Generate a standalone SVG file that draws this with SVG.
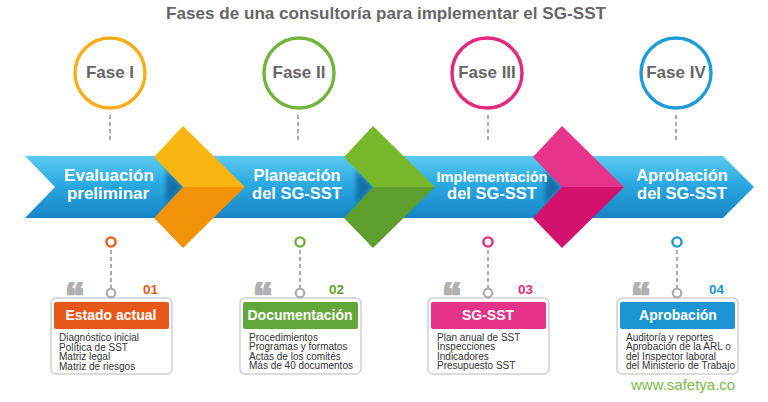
<svg xmlns="http://www.w3.org/2000/svg" width="768" height="402" viewBox="0 0 768 402">
<defs>
  <linearGradient id="band" x1="0" y1="0" x2="0" y2="1">
    <stop offset="0" stop-color="#5CCAF1"/>
    <stop offset="0.45" stop-color="#2BA9E1"/>
    <stop offset="1" stop-color="#1784C5"/>
  </linearGradient>
  <filter id="sh" x="-20%" y="-20%" width="140%" height="140%">
    <feGaussianBlur stdDeviation="2"/>
  </filter>
</defs>
<style>
  .title{font-family:"Liberation Sans",Arial,sans-serif;font-weight:bold;font-size:16.5px;fill:#666666}
  .fase{font-family:"Liberation Sans",Arial,sans-serif;font-weight:bold;font-size:17px;fill:#666666;text-anchor:middle}
  .ring{fill:#ffffff;stroke-width:3.4}
  .dash{stroke:#ababab;stroke-width:2;stroke-dasharray:4 3;fill:none}
  .bl{font-family:"Liberation Sans",Arial,sans-serif;font-weight:bold;font-size:16.5px;fill:#ffffff;text-anchor:middle}
  .card{fill:#ffffff;stroke:#cfcfcf;stroke-width:1.5}
  .hd{font-family:"Liberation Sans",Arial,sans-serif;font-weight:bold;font-size:14px;fill:#ffffff;text-anchor:middle}
  .body{font-family:"Liberation Sans",Arial,sans-serif;font-size:10px;fill:#333333}
  .num{font-family:"Liberation Sans",Arial,sans-serif;font-weight:bold;font-size:13.5px}
  .quote{font-family:"Liberation Sans",Arial,sans-serif;font-weight:bold;font-size:40px;fill:#b0b0b0;stroke:#b0b0b0;stroke-width:2.2;stroke-linejoin:round}
  .dot{fill:#ffffff;stroke-width:2.4}
  .gdot{fill:#ffffff;stroke:#ababab;stroke-width:2.2}
</style>
<rect width="768" height="402" fill="#ffffff"/>

<text class="title" x="386" y="19" text-anchor="middle" textLength="440" lengthAdjust="spacingAndGlyphs">Fases de una consultoría para implementar el SG-SST</text>

<g id="phase-1">
  <circle class="ring" cx="110" cy="73" r="35" stroke="#F6AE1B"/>
  <text class="fase" x="110" y="78">Fase I</text>
</g>
<g id="phase-2">
  <circle class="ring" cx="299" cy="73" r="35" stroke="#72B53E"/>
  <text class="fase" x="299" y="78">Fase II</text>
</g>
<g id="phase-3">
  <circle class="ring" cx="487" cy="73" r="35" stroke="#E1297F"/>
  <text class="fase" x="487" y="78">Fase III</text>
</g>
<g id="phase-4">
  <circle class="ring" cx="676" cy="73" r="35" stroke="#1F9BD7"/>
  <text class="fase" x="676" y="78">Fase IV</text>
</g>

<g id="connectors">
  <line class="dash" x1="110" y1="115" x2="110" y2="140"/>
  <line class="dash" x1="298" y1="115" x2="298" y2="140"/>
  <line class="dash" x1="488" y1="115" x2="488" y2="140"/>
  <line class="dash" x1="676" y1="115" x2="676" y2="140"/>
  <line class="dash" x1="111" y1="250" x2="111" y2="288"/>
  <line class="dash" x1="300" y1="250" x2="300" y2="288"/>
  <line class="dash" x1="488" y1="250" x2="488" y2="288"/>
  <line class="dash" x1="677" y1="250" x2="677" y2="288"/>
  <circle class="dot" cx="111" cy="242" r="4.6" stroke="#E8581A"/>
  <circle class="dot" cx="300" cy="242" r="4.6" stroke="#6DAE3A"/>
  <circle class="dot" cx="488" cy="242" r="4.6" stroke="#E1297F"/>
  <circle class="dot" cx="677" cy="242" r="4.6" stroke="#1F95D3"/>
</g>

<g id="band">
  <polygon points="25,156 723,156 754,187 723,218 25,218 55,187" fill="url(#band)"/>
  <polygon points="166,170 183,187 166,204" fill="#0A5A93" opacity="0.7" filter="url(#sh)"/>
  <polygon points="356,170 373,187 356,204" fill="#0A5A93" opacity="0.7" filter="url(#sh)"/>
  <polygon points="545,170 562,187 545,204" fill="#0A5A93" opacity="0.7" filter="url(#sh)"/>
  <g id="chevron-1">
    <polygon points="183,126 245,187 183,187 154,157" fill="#F9B510"/>
    <polygon points="183,187 245,187 183,248 154,218" fill="#F29206"/>
  </g>
  <g id="chevron-2">
    <polygon points="373,126 435,187 373,187 344,157" fill="#77B82A"/>
    <polygon points="373,187 435,187 373,248 344,218" fill="#5E9E2E"/>
  </g>
  <g id="chevron-3">
    <polygon points="562,126 624,187 562,187 533,157" fill="#E6348A"/>
    <polygon points="562,187 624,187 562,248 533,218" fill="#D3126F"/>
  </g>
  <g id="step-1">
    <text class="bl" x="109" y="181" style="font-size:17px">Evaluación</text>
    <text class="bl" x="108" y="198.5" style="font-size:17px">preliminar</text>
  </g>
  <g id="step-2">
    <text class="bl" x="297" y="181">Planeación</text>
    <text class="bl" x="297" y="198.5">del SG-SST</text>
  </g>
  <g id="step-3">
    <text class="bl" x="492" y="182" style="font-size:14.6px">Implementación</text>
    <text class="bl" x="492" y="198.5">del SG-SST</text>
  </g>
  <g id="step-4">
    <text class="bl" x="682" y="181">Aprobación</text>
    <text class="bl" x="682" y="198.5">del SG-SST</text>
  </g>
</g>

<g id="card-1">
  <rect x="51" y="298" width="121" height="76" rx="5" class="card"/>
  <rect x="54" y="302" width="115" height="27" rx="2" fill="#E8581A"/>
  <text class="hd" x="111" y="320">Estado actual</text>
  <text class="quote" x="65" y="311">“</text>
  <text class="num" x="143" y="294" fill="#E8581A">01</text>
  <circle class="gdot" cx="111" cy="293" r="4.3"/>
  <text class="body" x="59" y="341">Diagnóstico inicial</text>
  <text class="body" x="59" y="350.5">Política de SST</text>
  <text class="body" x="59" y="360">Matriz legal</text>
  <text class="body" x="59" y="369.5">Matriz de riesgos</text>
</g>
<g id="card-2">
  <rect x="240" y="298" width="121" height="76" rx="5" class="card"/>
  <rect x="243" y="302" width="115" height="27" rx="2" fill="#62A73A"/>
  <text class="hd" x="300" y="320">Documentación</text>
  <text class="quote" x="253" y="311">“</text>
  <text class="num" x="329" y="294" fill="#5FA331">02</text>
  <circle class="gdot" cx="300" cy="293" r="4.3"/>
  <text class="body" x="249" y="340.5">Procedimientos</text>
  <text class="body" x="249" y="350">Programas y formatos</text>
  <text class="body" x="249" y="359.5">Actas de los comités</text>
  <text class="body" x="249" y="369">Más de 40 documentos</text>
</g>
<g id="card-3">
  <rect x="428" y="298" width="121" height="76" rx="5" class="card"/>
  <rect x="431" y="302" width="115" height="27" rx="2" fill="#E43389"/>
  <text class="hd" x="488" y="320">SG-SST</text>
  <text class="quote" x="442" y="311">“</text>
  <text class="num" x="518" y="294" fill="#E1297F">03</text>
  <circle class="gdot" cx="488" cy="293" r="4.3"/>
  <text class="body" x="437" y="340.5">Plan anual de SST</text>
  <text class="body" x="437" y="350">Inspecciones</text>
  <text class="body" x="437" y="359.5">Indicadores</text>
  <text class="body" x="437" y="369">Presupuesto SST</text>
</g>
<g id="card-4">
  <rect x="617" y="298" width="121" height="76" rx="5" class="card"/>
  <rect x="620" y="302" width="115" height="27" rx="2" fill="#1D95D3"/>
  <text class="hd" x="678" y="320">Aprobación</text>
  <text class="quote" x="631" y="311">“</text>
  <text class="num" x="709" y="294" fill="#1D95D3">04</text>
  <circle class="gdot" cx="677" cy="293" r="4.3"/>
  <text class="body" x="626" y="340.5">Auditoría y reportes</text>
  <text class="body" x="626" y="350">Aprobación de la ARL o</text>
  <text class="body" x="626" y="359.5">del Inspector laboral</text>
  <text class="body" x="626" y="369">del Ministerio de Trabajo</text>
</g>

<text x="631" y="390" font-family="Liberation Sans, Arial, sans-serif" font-size="15" fill="#7DB94A">www.safetya.co</text>
</svg>
